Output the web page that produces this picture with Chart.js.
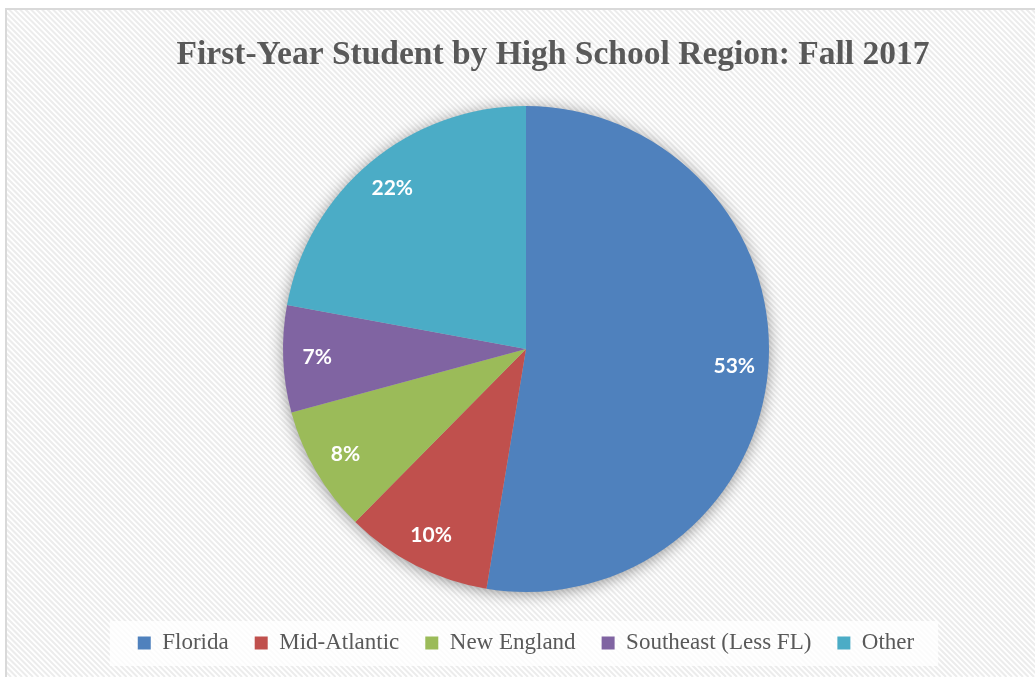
<!DOCTYPE html>
<html>
<head>
<meta charset="utf-8">
<script src="https://cdn.jsdelivr.net/npm/chart.js@4/dist/chart.umd.min.js"></script>
<style>
  html, body { margin: 0; padding: 0; background: #ffffff; }
  #wrap { position: relative; width: 1035px; height: 677px; }
</style>
</head>
<body>
<div id="wrap"><canvas id="c" width="1035" height="677"></canvas></div>
<script>
const chartTitle = 'First-Year Student by High School Region: Fall 2017';
const categories = ['Florida', 'Mid-Atlantic', 'New England', 'Southeast (Less FL)', 'Other'];
const shares = [52.6, 9.8, 8.4, 7.1, 22.1];
const sliceColors = ['#4F81BD', '#C0504D', '#9BBB59', '#8064A2', '#4BACC6'];

const backgroundPlugin = {
  id: 'bgPlugin',
  beforeDraw(chart) {
    const ctx = chart.ctx;
    const w = chart.width, h = chart.height;
    ctx.save();
    ctx.fillStyle = '#ffffff';
    ctx.fillRect(0, 0, w, h);
    ctx.beginPath();
    ctx.rect(6, 9, w, h);
    ctx.clip();
    ctx.strokeStyle = '#ececec';
    ctx.lineWidth = 2;
    for (let c = -h; c < w + h; c += 5.5) {
      ctx.beginPath();
      ctx.moveTo(c, 0);
      ctx.lineTo(c + h, h);
      ctx.stroke();
    }
    ctx.restore();
    ctx.save();
    ctx.strokeStyle = '#d9d9d9';
    ctx.lineWidth = 2;
    ctx.strokeRect(6, 9, w + 20, h + 20);
    ctx.restore();
    const lg = chart.legend;
    if (lg && lg.legendHitBoxes && lg.legendHitBoxes.length) {
      const hb = lg.legendHitBoxes;
      const first = hb[0], last = hb[hb.length - 1];
      const x0 = first.left - 28;
      const x1 = last.left + last.width + 24;
      const yc = first.top + first.height / 2;
      ctx.save();
      ctx.fillStyle = 'rgba(255,255,255,0.8)';
      ctx.fillRect(x0, yc - 22, x1 - x0, 45);
      ctx.restore();
    }
  },
  beforeDatasetsDraw(chart) {
    const meta = chart.getDatasetMeta(0);
    if (!meta.data.length) return;
    const a = meta.data[0];
    const ctx = chart.ctx;
    ctx.save();
    ctx.shadowColor = 'rgba(0,0,0,0.45)';
    ctx.shadowBlur = 16;
    ctx.shadowOffsetX = 0;
    ctx.shadowOffsetY = 2;
    ctx.fillStyle = '#bbbbbb';
    ctx.beginPath();
    ctx.arc(a.x, a.y, a.outerRadius - 1, 0, Math.PI * 2);
    ctx.fill();
    ctx.restore();
  },
  afterDatasetsDraw(chart) {
    const meta = chart.getDatasetMeta(0);
    const data = chart.data.datasets[0].data;
    const total = data.reduce((s, v) => s + v, 0);
    const ctx = chart.ctx;
    ctx.save();
    ctx.fillStyle = '#ffffff';
    ctx.font = 'bold 21px Lato, "Open Sans", sans-serif';
    ctx.textAlign = 'center';
    ctx.textBaseline = 'middle';
    meta.data.forEach((arc, i) => {
      const mid = (arc.startAngle + arc.endAngle) / 2;
      const r = arc.outerRadius * 0.86;
      const x = arc.x + Math.cos(mid) * r;
      const y = arc.y + Math.sin(mid) * r;
      ctx.fillText(Math.round(data[i] / total * 100) + '%', x, y);
    });
    ctx.restore();
  }
};

new Chart(document.getElementById('c'), {
  type: 'pie',
  data: {
    labels: categories,
    datasets: [{
      data: shares,
      backgroundColor: sliceColors,
      borderWidth: 0,
      radius: 243
    }]
  },
  options: {
    responsive: false,
    animation: false,
    layout: { padding: { left: 71, right: 0, top: 0, bottom: 12.5 } },
    plugins: {
      title: {
        display: true,
        text: chartTitle,
        color: '#595959',
        font: { family: '"Liberation Serif", serif', size: 33.5, weight: 'bold', lineHeight: 1.2 },
        padding: { top: 35, bottom: 17.3 }
      },
      subtitle: {
        display: true,
        text: ' ',
        position: 'right',
        fullSize: false,
        font: { size: 10, lineHeight: 1.2 },
        padding: 21
      },
      legend: {
        display: true,
        position: 'bottom',
        fullSize: false,
        labels: {
          color: '#595959',
          font: { family: '"Liberation Serif", serif', size: 23 },
          boxWidth: 13,
          boxHeight: 13,
          padding: 26
        }
      },
      tooltip: { enabled: false }
    }
  },
  plugins: [backgroundPlugin]
});
</script>
</body>
</html>
